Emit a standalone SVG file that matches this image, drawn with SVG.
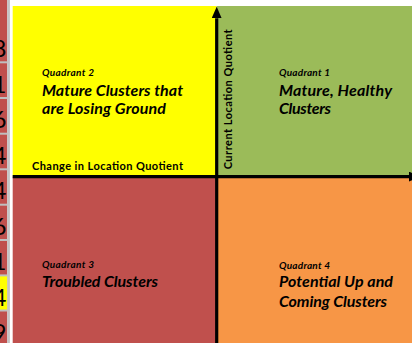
<svg xmlns="http://www.w3.org/2000/svg" width="412" height="343" viewBox="0 0 412 343">
  <style>
    .q { font-family: Lato, "Liberation Sans", sans-serif; font-weight: bold; font-style: italic; fill: #000; }
    .small { font-size: 10px; }
    .big { font-size: 16px; }
    .axis-label { font-family: Lato, "Liberation Sans", sans-serif; font-weight: bold; font-size: 11px; fill: #000; }
    .cellnum { font-family: Lato, "Liberation Sans", sans-serif; font-size: 24px; fill: #000; }
    .grid { stroke: #BFBFBF; stroke-width: 2; }
    .axis { stroke: #000; stroke-width: 3.2; fill: none; }
  </style>
  <defs>
    <marker id="arrow" markerUnits="userSpaceOnUse" markerWidth="12" markerHeight="10" refX="0" refY="5" orient="auto">
      <path d="M0,0 L11.5,5 L0,10 Z" fill="#000"/>
    </marker>
    <clipPath id="stripClip">
      <rect x="0" y="0" width="7.3" height="343"/>
    </clipPath>
  </defs>

  <!-- background -->
  <rect x="0" y="0" width="412" height="343" fill="#FFFFFF"/>

  <!-- spreadsheet strip on the left -->
  <g id="sheet-strip">
    <rect x="0" y="0" width="7.3" height="343" fill="#C0504D"/>
    <rect x="0" y="276" width="7.3" height="34" fill="#FFFF00"/>
    <rect x="7.3" y="0" width="2.6" height="343" fill="#C4C4C4"/>
    <g class="grid">
      <line x1="0" y1="62.3" x2="7.3" y2="62.3"/>
      <line x1="0" y1="98" x2="7.3" y2="98"/>
      <line x1="0" y1="133.7" x2="7.3" y2="133.7"/>
      <line x1="0" y1="169.3" x2="7.3" y2="169.3"/>
      <line x1="0" y1="204.7" x2="7.3" y2="204.7"/>
      <line x1="0" y1="240" x2="7.3" y2="240"/>
      <line x1="0" y1="275.4" x2="7.3" y2="275.4"/>
      <line x1="0" y1="310.5" x2="7.3" y2="310.5"/>
    </g>
    <g clip-path="url(#stripClip)">
      <text class="cellnum" x="6.5" y="57" text-anchor="end">8</text>
      <text class="cellnum" x="6.5" y="92.5" text-anchor="end">1</text>
      <text class="cellnum" x="6.5" y="128" text-anchor="end">6</text>
      <text class="cellnum" x="6.5" y="163.5" text-anchor="end">4</text>
      <text class="cellnum" x="6.5" y="199" text-anchor="end">4</text>
      <text class="cellnum" x="6.5" y="234.5" text-anchor="end">6</text>
      <text class="cellnum" x="6.5" y="270" text-anchor="end">1</text>
      <text class="cellnum" x="6.5" y="305.5" text-anchor="end">4</text>
      <text class="cellnum" x="6.5" y="341" text-anchor="end">9</text>
    </g>
  </g>

  <!-- Quadrant 2 -->
  <g id="quadrant2">
    <rect x="12.7" y="6" width="204" height="170.5" fill="#FFFF00"/>
    <text class="q small" x="42" y="76" textLength="52">Quadrant 2</text>
    <text class="q big" x="42" y="95.5" textLength="141">Mature Clusters that</text>
    <text class="q big" x="42" y="113.5" textLength="124">are Losing Ground</text>
  </g>

  <!-- Quadrant 1 -->
  <g id="quadrant1">
    <rect x="216.7" y="6" width="196" height="170.5" fill="#9BBB59"/>
    <text class="q small" x="279" y="76" textLength="51">Quadrant 1</text>
    <text class="q big" x="279" y="95.5" textLength="113">Mature, Healthy</text>
    <text class="q big" x="279" y="113.5" textLength="52">Clusters</text>
  </g>

  <!-- Quadrant 3 -->
  <g id="quadrant3">
    <rect x="12.7" y="176.5" width="204" height="167" fill="#C0504D"/>
    <text class="q small" x="42" y="268" textLength="52">Quadrant 3</text>
    <text class="q big" x="42" y="287" textLength="116">Troubled Clusters</text>
  </g>

  <!-- Quadrant 4 -->
  <g id="quadrant4">
    <rect x="216.7" y="176.5" width="196" height="167" fill="#F79646"/>
    <text class="q small" x="279" y="269" textLength="51">Quadrant 4</text>
    <text class="q big" x="279" y="287" textLength="114">Potential Up and</text>
    <text class="q big" x="279" y="307" textLength="108">Coming Clusters</text>
  </g>

  <!-- axes (connectors) -->
  <g id="connectors">
    <line class="axis" x1="12.7" y1="176.6" x2="409" y2="176.6" marker-end="url(#arrow)"/>
    <line class="axis" x1="216.7" y1="343" x2="216.7" y2="18.3" marker-end="url(#arrow)"/>
  </g>

  <!-- axis labels -->
  <g id="axis-labels">
    <text class="axis-label" x="32" y="169.5" textLength="151">Change in Location Quotient</text>
    <text class="axis-label" transform="translate(231.8,169.3) rotate(-90)" x="0" y="0" textLength="140">Current Location Quotient</text>
  </g>
</svg>
